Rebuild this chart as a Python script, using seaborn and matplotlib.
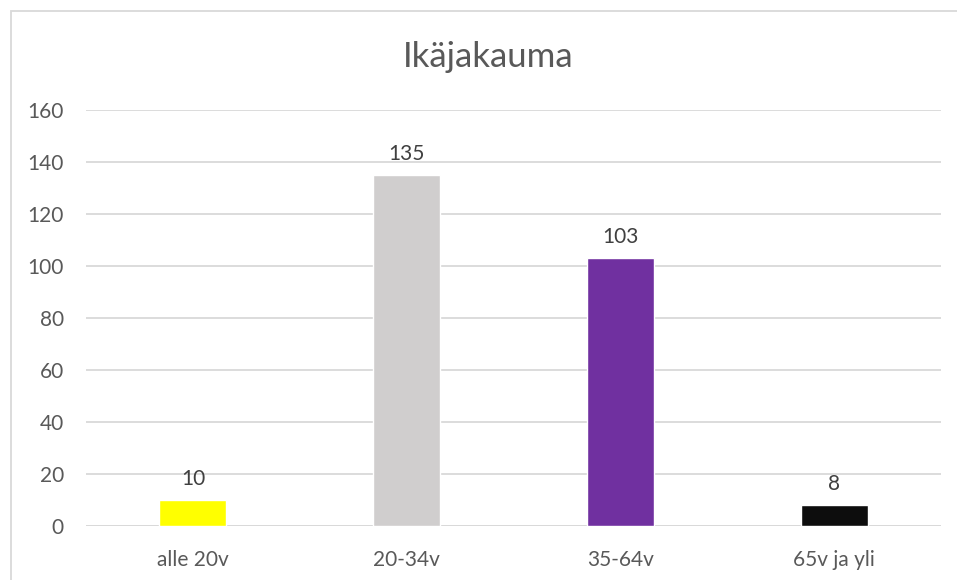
import matplotlib
matplotlib.use("Agg")
import matplotlib.pyplot as plt
import seaborn as sns
import pandas as pd

# tiedot
ryhmat = ["alle 20v", "20-34v", "35-64v", "65v ja yli"]
maarat = [10, 135, 103, 8]
varit = ["#FFFF00", "#D0CECE", "#7030A0", "#0D0D0D"]
y_tikit = [0, 20, 40, 60, 80, 100, 120, 140, 160]

df = pd.DataFrame({"ryhma": ryhmat, "maara": maarat})

sns.set_style("white")
plt.rcParams["font.family"] = ["Lato", "DejaVu Sans"]
teksti = "#595959"

fig = plt.figure(figsize=(9.57, 5.8), dpi=100)
ax = fig.add_axes([0.0899, 0.0931, 0.8934, 0.7172])

sns.barplot(data=df, x="ryhma", y="maara", hue="ryhma", palette=varit,
            width=0.313, legend=False, ax=ax, saturation=1)

for i, v in enumerate(maarat):
    ax.annotate(str(v), (i, v), xytext=(0, 8), textcoords="offset points",
                ha="center", va="bottom", fontsize=15, color="#404040")

ax.set_ylim(0, 160)
ax.set_yticks(y_tikit)
ax.set_xlim(-0.5, 3.5)
ax.yaxis.grid(True, color="#D9D9D9", linewidth=1.3)
ax.set_axisbelow(True)
for s in ax.spines.values():
    s.set_visible(False)
ax.axhline(0, color="#D9D9D9", linewidth=1.3, zorder=0)
ax.tick_params(axis="both", length=0, labelsize=15, labelcolor=teksti)
ax.tick_params(axis="y", pad=16)
ax.tick_params(axis="x", pad=17)
ax.set_xlabel("")
ax.set_ylabel("")

fig.text(0.51, 0.902, "Ikäjakauma", ha="center", va="center",
         fontsize=25, color=teksti)

# kaavion reunus
fig.add_artist(plt.Rectangle((10.5 / 957, -0.1), 1.2, 1.1 - 11 / 580,
                             transform=fig.transFigure, fill=False,
                             edgecolor="#D9D9D9", linewidth=1.3))

fig.savefig("out.png", dpi=100)
